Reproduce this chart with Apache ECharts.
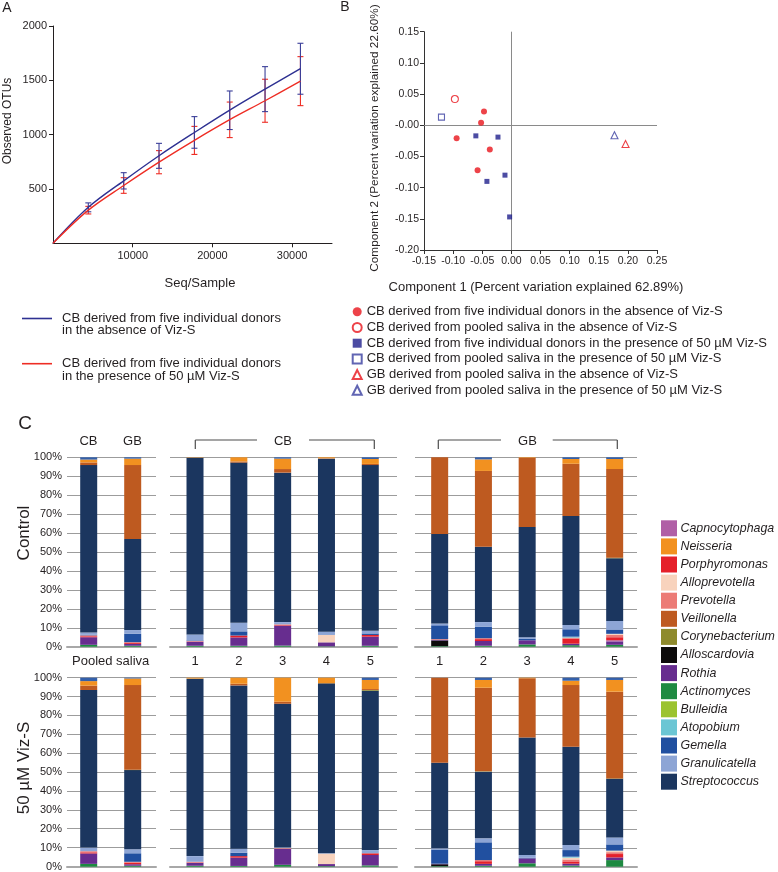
<!DOCTYPE html>
<html><head><meta charset="utf-8">
<script src="https://cdn.jsdelivr.net/npm/echarts@6/dist/echarts.min.js"></script>
<style>html,body{margin:0;padding:0;background:#fff}#c{width:778px;height:872px}</style>
</head><body><div id="c"></div><script>
// ---------- Panel A: rarefaction ----------
const seqDepth = [0, 4430, 8870, 13300, 17740, 22170, 26600, 31040];
const otuNoViz = [0, 331, 575, 806, 1020, 1226, 1419, 1607];
const otuNoVizLow = [null, 290, 500, 690, 875, 1047, 1212, 1372];
const otuNoVizHigh = [null, 372, 650, 920, 1166, 1402, 1626, 1841];
const otuViz = [0, 305, 532, 747, 948, 1138, 1312, 1493];
const otuVizLow = [null, 270, 460, 640, 818, 973, 1114, 1267];
const otuVizHigh = [null, 340, 604, 853, 1076, 1300, 1510, 1718];
const xTicksA = [10000, 20000, 30000];

// ---------- Panel B: PCoA ----------
const cbDonorsCtrl = [[-0.047, 0.022], [-0.052, 0.004], [-0.094, -0.021], [-0.037, -0.039], [-0.058, -0.072]];
const cbPooledCtrl = [[-0.097, 0.042]];
const cbDonorsViz = [[-0.061, -0.017], [-0.023, -0.019], [-0.042, -0.090], [-0.011, -0.080], [-0.003, -0.147]];
const cbPooledViz = [[-0.120, 0.013]];
const gbPooledCtrl = [[0.196, -0.030]];
const gbPooledViz = [[0.177, -0.016]];
const pcoaNames = [
  'CB derived from five individual donors in the absence of Viz-S',
  'CB derived from pooled saliva in the absence of Viz-S',
  'CB derived from five individual donors in the presence of 50 µM Viz-S',
  'CB derived from pooled saliva in the presence of 50 µM Viz-S',
  'GB derived from pooled saliva in the absence of Viz-S',
  'GB derived from pooled saliva in the presence of 50 µM Viz-S'
];

// ---------- Panel C: relative abundance (%) ----------
// sample order per row: CB pooled, GB pooled, CB1..CB5, GB1..GB5 ; first 12 = Control, next 12 = 50 µM Viz-S
const Actinomyces = [1.0,0.5,0.5,0.5,0.6,0.2,0.5,0.3,0.5,1.2,0.8,1.0, 1.5,0.5,0.5,0.4,1.0,0.3,0.7,0.3,0.5,1.8,0.6,3.5];
const Bulleidia = [0,0,0,0,0,0,0,0,0,0,0,0, 0,0,0,0,0,0,0,0,0,0,0,0];
const Alloscardovia = [0,0,0,0,0,0,0,3.0,0,0,0,0, 0,0,0,0,0,0,0,1.0,0,0,0,0];
const Rothia = [4.0,1.0,2.2,4.4,10.5,2.1,4.8,0.3,2.5,2.2,0.8,1.8, 5.5,0.8,1.6,4.4,8.4,1.1,5.5,0.3,1.0,2.6,1.0,1.4];
const Capnocytophaga = [0,0,0,0,0,0,0,0,0,0,0,0.6, 0,0,0,0,0,0,0,0,0,0,0,0];
const Porphyromonas = [0.5,0.5,0,1.0,0.3,0,0.9,0,1.0,0,2.7,1.6, 0.6,0.8,0,0.8,0,0,0.9,0,1.4,0,1.2,1.8];
const Prevotella = [0.5,0.4,0.3,0,0.4,0,0,0.4,0.5,0,0.5,1.3, 0.6,0.5,0.5,0,0.4,0,0,0,0.6,0,1.0,1.0];
const Alloprevotella = [0,0,0,0,0,3.9,0,0,0,0,0,0.5, 0,0,0,0,0,5.5,0,0,0,0,1.0,0.8];
const Atopobium = [0,0,0,0,0,0,0,0,0,0,0.5,0, 0,0,0,0,0,0,0,0,0,0,0.5,0];
const Gemella = [0.3,4.4,0.3,2.2,0,0,0.8,7.3,6.1,0.7,3.9,2.3, 0,4.5,0,1.8,0,0,0,7.5,9.4,0.3,3.5,3.3];
const Granulicatella = [1.2,2.0,3.2,4.5,1.2,1.7,1.4,1.0,2.4,0.9,2.3,4.5, 1.9,2.1,3.0,2.1,0.4,0.2,1.7,0.6,2.1,1.5,2.7,3.7];
const Streptococcus = [88.4,48.1,93.3,84.6,78.9,91.4,87.5,47.2,39.8,58.2,57.5,33.1, 83.4,41.9,93.9,86.4,76.0,89.9,84.3,45.3,35.3,62.1,52.0,31.0];
const Corynebacterium = [0,0,0,0,0,0,0,0,0,0,0,0.3, 0,0.2,0,0,0,0,0.4,0,0.2,0,0,0.2];
const Veillonella = [1.4,39.0,0,0.6,1.9,0.2,0.6,40.5,40.0,36.5,27.6,46.8, 2.3,44.8,0,0.9,1.1,0,0.5,45.0,44.2,31.4,32.6,45.9];
const Neisseria = [1.5,3.4,0.2,2.2,5.5,0.5,2.6,0,6.1,0.3,2.5,5.3, 2.4,3.5,0.5,3.2,12.7,3.0,4.8,0,4.1,0.3,2.3,6.2];
const Others = [1.2,0.7,0,0,0.7,0,0.9,0,1.1,0,0.9,0.9, 1.8,0.4,0,0,0,0,1.2,0,1.2,0,1.6,1.2];
const pooledCats = ['CB', 'GB'];
const sampleLabels = ['1', '2', '3', '4', '5'];
const pooledLabel = 'Pooled saliva';
const legendOrder = ['Capnocytophaga','Neisseria','Porphyromonas','Alloprevotella','Prevotella','Veillonella','Corynebacterium','Alloscardovia','Rothia','Actinomyces','Bulleidia','Atopobium','Gemella','Granulicatella','Streptococcus'];

// stack order bottom -> top
const stackGenera = [
  ['Actinomyces', Actinomyces], ['Bulleidia', Bulleidia], ['Alloscardovia', Alloscardovia], ['Rothia', Rothia],
  ['Capnocytophaga', Capnocytophaga], ['Porphyromonas', Porphyromonas], ['Prevotella', Prevotella],
  ['Alloprevotella', Alloprevotella], ['Atopobium', Atopobium], ['Gemella', Gemella], ['Granulicatella', Granulicatella],
  ['Streptococcus', Streptococcus], ['Corynebacterium', Corynebacterium], ['Veillonella', Veillonella],
  ['Neisseria', Neisseria], ['Others', Others]
];
const genusColor = {
  Capnocytophaga: '#B05FA6', Neisseria: '#F29120', Porphyromonas: '#E5202A', Alloprevotella: '#F8D3BD',
  Prevotella: '#EC7B76', Veillonella: '#BE5A20', Corynebacterium: '#8E8A2C', Alloscardovia: '#0D0B0B',
  Rothia: '#672D8F', Actinomyces: '#1E8A41', Bulleidia: '#9BC32F', Atopobium: '#6BC6D4',
  Gemella: '#2150A0', Granulicatella: '#8DA5D5', Streptococcus: '#1B365F', Others: '#3460AA'
};

const FONT = 'Liberation Sans, Arial, sans-serif';
const TXT = '#231F20';
const chart = echarts.init(document.getElementById('c'), null, {width: 778, height: 872});

const grids = [
  {left: 53, top: 26, width: 279, height: 217.3},           // A
  {left: 424, top: 31.7, width: 233, height: 218.3},        // B
];
// background (gridline) frame and bar band for each sub-panel of C
const cGroups = [
  {bgLeft: 67, bgWidth: 89, bgMin: -0.493, bgMax: 1.53, barLeft: 66.7, barW: 88, cats: pooledCats, idx: [0, 1]},
  {bgLeft: 170, bgWidth: 227, bgMin: -0.571, bgMax: 4.61, barLeft: 173.1, barW: 219.1, cats: sampleLabels, idx: [2, 3, 4, 5, 6]},
  {bgLeft: 415, bgWidth: 222, bgMin: -0.565, bgMax: 4.51, barLeft: 417.8, barW: 218.75, cats: sampleLabels, idx: [7, 8, 9, 10, 11]}
];
const cRows = [{top: 457.3, height: 189.4, off: 0}, {top: 677.7, height: 189, off: 12}];

const xAxes = [
  {gridIndex: 0, type: 'value', min: 0, max: 35000,
   axisLine: {lineStyle: {color: TXT, width: 1}}, splitLine: {show: false},
   axisTick: {customValues: xTicksA, length: 4, lineStyle: {color: TXT}},
   axisLabel: {customValues: xTicksA, formatter: v => String(v), fontSize: 11, color: TXT, margin: 7, fontFamily: FONT}},
  {gridIndex: 1, type: 'value', min: -0.15, max: 0.25, interval: 0.05,
   axisLine: {onZero: false, lineStyle: {color: '#333', width: 1}}, splitLine: {show: false},
   axisTick: {length: 4, lineStyle: {color: '#333'}},
   axisLabel: {fontSize: 10.5, color: TXT, margin: 6, fontFamily: FONT,
     formatter: v => Math.abs(v) < 1e-9 ? '0.00' : v.toFixed(2)}}
];
const yAxes = [
  {gridIndex: 0, type: 'value', min: 0, max: 2000, interval: 500,
   axisLine: {show: true, lineStyle: {color: TXT, width: 1}}, splitLine: {show: false},
   axisTick: {show: true, length: 4, lineStyle: {color: TXT}},
   axisLabel: {showMinLabel: false, formatter: v => String(v), fontSize: 11, color: TXT, margin: 6, fontFamily: FONT}},
  {gridIndex: 1, type: 'value', min: -0.2, max: 0.15, interval: 0.05,
   axisLine: {show: true, onZero: false, lineStyle: {color: '#333', width: 1}}, splitLine: {show: false},
   axisTick: {show: true, length: 4, lineStyle: {color: '#333'}},
   axisLabel: {fontSize: 10.5, color: TXT, margin: 5, fontFamily: FONT,
     formatter: v => Math.abs(v) < 1e-9 ? '-0.00' : (v < 0 ? '-' + Math.abs(v).toFixed(2) : v.toFixed(2))}}
];

const series = [];
function pairs(xs, ys) { return xs.map((x, i) => [x, ys[i]]); }
series.push({type: 'line', name: 'A1', xAxisIndex: 0, yAxisIndex: 0, data: pairs(seqDepth, otuNoViz),
  smooth: 0.35, symbol: 'none', lineStyle: {color: '#2E3192', width: 1.4}, z: 4});
series.push({type: 'line', name: 'A2', xAxisIndex: 0, yAxisIndex: 0, data: pairs(seqDepth, otuViz),
  smooth: 0.35, symbol: 'none', lineStyle: {color: '#EE2D24', width: 1.4}, z: 4});
function errorSeries(color, lows, highs) {
  const data = [];
  for (let i = 0; i < lows.length; i++) if (lows[i] != null) data.push([seqDepth[i], lows[i], highs[i]]);
  return {type: 'custom', xAxisIndex: 0, yAxisIndex: 0, silent: true, z: 3, data,
    encode: {x: 0, y: [1, 2]},
    renderItem(params, api) {
      const x = api.value(0);
      const lo = api.coord([x, api.value(1)]);
      const hi = api.coord([x, api.value(2)]);
      const w = 3, st = {stroke: color, lineWidth: 1.1};
      return {type: 'group', children: [
        {type: 'line', shape: {x1: lo[0], y1: lo[1], x2: hi[0], y2: hi[1]}, style: st},
        {type: 'line', shape: {x1: lo[0] - w, y1: lo[1], x2: lo[0] + w, y2: lo[1]}, style: st},
        {type: 'line', shape: {x1: hi[0] - w, y1: hi[1], x2: hi[0] + w, y2: hi[1]}, style: st}
      ]};
    }};
}
series.push(errorSeries('#EE2D24', otuVizLow, otuVizHigh));
series.push(errorSeries('#3B3F99', otuNoVizLow, otuNoVizHigh));

const pcoaSets = [
  [cbDonorsCtrl, 'circle', 6, {color: '#E8141C'}],
  [cbPooledCtrl, 'circle', 7, {color: '#fff', borderColor: '#E8141C', borderWidth: 1.1}],
  [cbDonorsViz, 'rect', 5, {color: '#1F1F8C'}],
  [cbPooledViz, 'rect', 6, {color: '#fff', borderColor: '#3A3FA0', borderWidth: 1.1}],
  [gbPooledCtrl, 'triangle', 7, {color: '#fff', borderColor: '#E8141C', borderWidth: 1.1}],
  [gbPooledViz, 'triangle', 7, {color: '#fff', borderColor: '#3A3FA0', borderWidth: 1.1}]
];
pcoaSets.forEach((s, i) => {
  const ser = {type: 'scatter', name: pcoaNames[i], xAxisIndex: 1, yAxisIndex: 1, data: s[0],
    symbol: s[1], symbolSize: s[2], itemStyle: s[3], z: 5};
  if (i === 0) ser.markLine = {silent: true, symbol: 'none', label: {show: false}, animation: false,
    lineStyle: {color: '#8A8A8A', width: 1, type: 'solid'}, data: [{xAxis: 0}, {yAxis: 0}]};
  series.push(ser);
});

cRows.forEach((row, r) => {
  cGroups.forEach((g, k) => {
    // background frame: gridlines, baseline, labels
    const bi = grids.length;
    grids.push({left: g.bgLeft, top: row.top, width: g.bgWidth, height: row.height});
    const ax = {gridIndex: bi, type: 'value', min: g.bgMin, max: g.bgMax,
      axisLine: {show: true, onZero: false, lineStyle: {color: '#A8A8A8', width: 2}},
      axisTick: {show: false}, splitLine: {show: false}, axisLabel: {show: false}};
    if (r === 0) {
      if (k === 0) ax.axisLabel = {show: true, customValues: [0.5], formatter: () => pooledLabel,
        fontSize: 13, color: TXT, margin: 8, fontFamily: FONT};
      else ax.axisLabel = {show: true, customValues: [0, 1, 2, 3, 4],
        formatter: v => sampleLabels[Math.round(v)], fontSize: 13, color: TXT, margin: 8, fontFamily: FONT};
    }
    xAxes.push(ax);
    yAxes.push({gridIndex: bi, type: 'value', min: 0, max: 100, interval: 10,
      axisLine: {show: false}, axisTick: {show: false},
      splitLine: {show: true, lineStyle: {color: '#9C9C9C', width: 1}},
      axisLabel: {show: k === 0, formatter: '{value}%', fontSize: 11, color: TXT, margin: 5, fontFamily: FONT}});
    // bar band
    const gi = grids.length;
    grids.push({left: g.barLeft, top: row.top, width: g.barW, height: row.height});
    xAxes.push({gridIndex: gi, type: 'category', data: g.cats, show: false});
    yAxes.push({gridIndex: gi, type: 'value', min: 0, max: 100, show: false, splitLine: {show: false}});
    stackGenera.forEach(([name, arr]) => {
      series.push({type: 'bar', name, xAxisIndex: gi, yAxisIndex: gi, stack: 's' + gi, barWidth: 17,
        data: g.idx.map(si => arr[si + row.off]),
        itemStyle: {color: genusColor[name]}, silent: true, z: 2});
    });
  });
});

function txt(text, x, y, size, opts) {
  return Object.assign({type: 'text', x, y, silent: true, style: Object.assign({text, fontSize: size, fontFamily: FONT,
    fill: TXT, align: 'center', verticalAlign: 'middle'}, opts && opts.style || {})}, opts && opts.el || {});
}
function ln(x1, y1, x2, y2, color, w) {
  return {type: 'line', shape: {x1, y1, x2, y2}, style: {stroke: color, lineWidth: w || 1}, silent: true};
}
const BR = '#4D4D4D';
const graphics = [
  txt('A', 7, 8, 14),
  txt('B', 345, 7, 14),
  txt('C', 25, 424, 19),
  txt('Observed OTUs', 8, 121, 12, {el: {rotation: Math.PI / 2}}),
  txt('Seq/Sample', 200, 283, 13),
  txt('Component 2 (Percent variation explained 22.60%)', 375, 138, 11.8, {el: {rotation: Math.PI / 2}}),
  txt('Component 1 (Percent variation explained 62.89%)', 536, 287, 13),
  ln(22, 318.5, 52, 318.5, '#2E3192', 1.6),
  txt('CB derived from five individual donors\nin the absence of Viz-S', 62, 324.5, 13, {style: {align: 'left', lineHeight: 12.5}}),
  ln(22, 363.7, 52, 363.7, '#EE2D24', 1.6),
  txt('CB derived from five individual donors\nin the presence of 50 µM Viz-S', 62, 369.7, 13, {style: {align: 'left', lineHeight: 12.5}}),
  txt('CB', 88.5, 441, 13), txt('GB', 132.5, 441, 13),
  ln(195.3, 440, 195.3, 449, BR, 1.2), ln(195.3, 440, 257, 440, BR, 1.2),
  txt('CB', 283, 441, 13),
  ln(309, 440, 374.3, 440, BR, 1.2), ln(374.3, 440, 374.3, 449, BR, 1.2),
  ln(438.3, 440, 438.3, 449, BR, 1.2), ln(438.3, 440, 501, 440, BR, 1.2),
  txt('GB', 527.5, 441, 13),
  ln(552.7, 440, 617.3, 440, BR, 1.2), ln(617.3, 440, 617.3, 449, BR, 1.2),
  txt('Control', 24, 533, 17, {el: {rotation: Math.PI / 2}}),
  txt('50 µM Viz-S', 24, 768, 17, {el: {rotation: Math.PI / 2}})
];

chart.setOption({
  animation: false,
  textStyle: {fontFamily: FONT},
  grid: grids,
  xAxis: xAxes,
  yAxis: yAxes,
  legend: [
    {data: pcoaNames, orient: 'vertical', left: 351.7, top: 305.3, padding: 0, itemWidth: 9, itemHeight: 9, itemGap: 2.7,
     selectedMode: false, textStyle: {fontSize: 13, color: TXT, fontFamily: FONT}},
    {data: legendOrder, orient: 'vertical', left: 661, top: 520.3, padding: 0, itemWidth: 16, itemHeight: 16, itemGap: 2.1,
     icon: 'rect', selectedMode: false, textStyle: {fontSize: 12.4, color: TXT, fontStyle: 'italic', fontFamily: FONT, padding: [0, 0, 0, -1.5]}}
  ],
  graphic: {elements: graphics},
  series
});
</script></body></html>
